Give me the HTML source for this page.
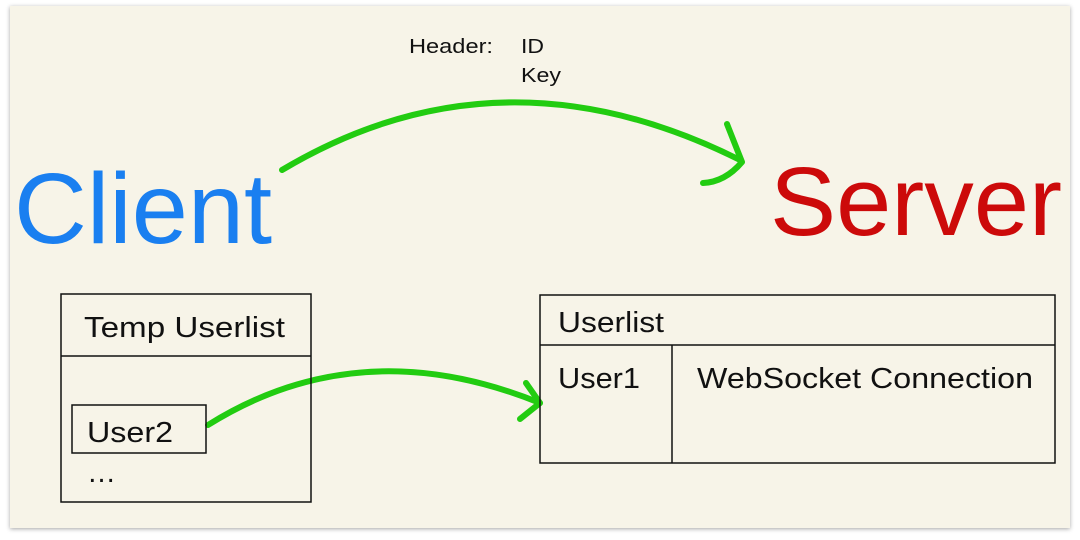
<!DOCTYPE html>
<html><head><style>
html,body{margin:0;padding:0;background:#fff;}
svg{display:block}
text{font-family:"Liberation Sans",sans-serif;}
</style></head><body>
<svg width="1080" height="540" viewBox="0 0 1080 540">
<defs><filter id="sh" x="-5%" y="-5%" width="110%" height="110%"><feDropShadow dx="0" dy="1" stdDeviation="2" flood-color="#000" flood-opacity="0.35"/></filter></defs>
<rect x="10" y="6" width="1060" height="522" fill="#f7f4e8" filter="url(#sh)"/>
<text x="409" y="53" font-size="20" fill="#111" textLength="84" lengthAdjust="spacingAndGlyphs">Header:</text>
<text x="521" y="53" font-size="20" fill="#111" textLength="23" lengthAdjust="spacingAndGlyphs">ID</text>
<text x="521" y="82" font-size="20" fill="#111" textLength="40" lengthAdjust="spacingAndGlyphs">Key</text>
<text x="14" y="243" font-size="100" fill="#1a7ff0" textLength="258" lengthAdjust="spacingAndGlyphs">Client</text>
<text x="770" y="235" font-size="97" fill="#cc0a0a" textLength="292" lengthAdjust="spacingAndGlyphs">Server</text>
<g fill="none" stroke="#22cc11" stroke-width="6" stroke-linecap="round" stroke-linejoin="round">
<path d="M282 170 Q500 40 740 160"/>
<path d="M727 124 L742 162 Q725 182 703 183"/>
<path d="M208 425 Q360 330 540 403"/>
<path d="M526 383 L540 403 L520 419"/>
</g>
<g fill="none" stroke="#111" stroke-width="1.5">
<rect x="61" y="294" width="250" height="208"/>
<line x1="61" y1="356" x2="311" y2="356"/>
<rect x="72" y="405" width="134" height="48"/>
<rect x="540" y="295" width="515" height="168"/>
<line x1="540" y1="345" x2="1055" y2="345"/>
<line x1="672" y1="345" x2="672" y2="463"/>
</g>
<g font-size="29" fill="#111">
<text x="84" y="337" textLength="201" lengthAdjust="spacingAndGlyphs">Temp Userlist</text>
<text x="87" y="442" textLength="86" lengthAdjust="spacingAndGlyphs">User2</text>
<text x="87" y="482">…</text>
<text x="558" y="332" textLength="106" lengthAdjust="spacingAndGlyphs">Userlist</text>
<text x="558" y="388" textLength="82" lengthAdjust="spacingAndGlyphs">User1</text>
<text x="697" y="388" textLength="336" lengthAdjust="spacingAndGlyphs">WebSocket Connection</text>
</g>
</svg>
</body></html>
